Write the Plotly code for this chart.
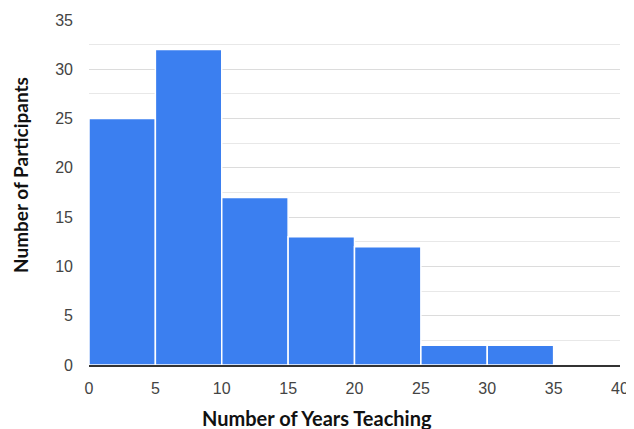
import plotly.graph_objects as go

bin_starts = [0, 5, 10, 15, 20, 25, 30, 35]
bin_width = 5
participants = [25, 32, 17, 13, 12, 2, 2, 0]
x_ticks = [0, 5, 10, 15, 20, 25, 30, 35, 40]
y_ticks = [0, 5, 10, 15, 20, 25, 30, 35]

centers = [s + bin_width / 2 for s in bin_starts]

fig = go.Figure(go.Bar(
    x=centers, y=participants, width=[bin_width] * len(centers),
    marker=dict(color="#3b7ff0", line=dict(color="white", width=1.5)),
))

# the page body has an 8px margin, so the figure is drawn 8px in from the corner
OFF = 8
W, H = 634 - OFF, 429 - OFF
L, R, T, B = 89 - OFF, 14, 20 - OFF, 64
pw, ph = W - L - R, H - T - B

fig.update_layout(
    width=W, height=H,
    margin=dict(l=L, r=R, t=T, b=B),
    paper_bgcolor="white", plot_bgcolor="white",
    showlegend=False,
    font=dict(family="Arial, Liberation Sans", color="#444", size=16),
)
fig.update_xaxes(
    range=[0, 40], tickvals=x_ticks, showgrid=False, zeroline=False,
    showline=True, linecolor="#333", linewidth=1.5,
    ticks="", ticklabelstandoff=8, automargin=False,
)
fig.update_yaxes(
    range=[0, 35], tickvals=y_ticks, showgrid=True, gridcolor="#dcdcdc", gridwidth=1,
    minor=dict(dtick=2.5, showgrid=True, gridcolor="#e8e8e8", gridwidth=1),
    zeroline=False, ticks="", ticklabelstandoff=15, automargin=False,
)

title_font = dict(family="Lato, Open Sans", color="#111")
fig.add_annotation(
    text="<b>Number of Years Teaching</b>", showarrow=False,
    xref="paper", yref="paper",
    x=(317 - OFF - L) / pw, y=(H - B - (418 - OFF)) / ph, xanchor="center", yanchor="middle",
    font=dict(size=20, **title_font),
)
fig.add_annotation(
    text="<b>Number of Participants</b>", showarrow=False, textangle=-90,
    xref="paper", yref="paper",
    x=(20 - OFF - L) / pw, y=(H - B - (175 - OFF)) / ph, xanchor="center", yanchor="middle",
    font=dict(size=19, **title_font),
)

fig.write_html("out.html")
